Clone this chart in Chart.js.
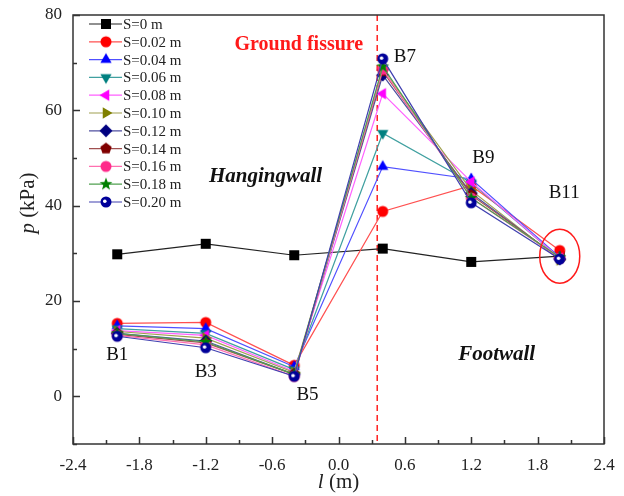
<!DOCTYPE html>
<html>
<head>
<meta charset="utf-8">
<script src="https://cdn.jsdelivr.net/npm/chart.js@4/dist/chart.umd.min.js"></script>
<style>
  html, body { margin: 0; padding: 0; background: #fff; }
  #wrap { width: 624px; height: 496px; }
</style>
</head>
<body>
<div id="wrap"><canvas id="chart" width="624" height="496"></canvas></div>
<script>
// Data
const positions = [-2.0, -1.2, -0.4, 0.4, 1.2, 2.0];   // l (m)
const pointNames = ['B1', 'B3', 'B5', 'B7', 'B9', 'B11'];
const seriesNames = ['S=0 m', 'S=0.02 m', 'S=0.04 m', 'S=0.06 m', 'S=0.08 m', 'S=0.10 m',
                     'S=0.12 m', 'S=0.14 m', 'S=0.16 m', 'S=0.18 m', 'S=0.20 m'];
const s000 = [29.8, 32.0, 29.6, 31.0, 28.2, 29.4];
const s002 = [15.3, 15.5, 6.5, 38.8, 44.2, 30.6];
const s004 = [14.8, 14.2, 6.2, 48.2, 45.6, 29.2];
const s006 = [14.2, 13.2, 5.6, 55.2, 44.8, 29.0];
const s008 = [13.8, 12.8, 5.2, 63.5, 45.0, 29.0];
const s010 = [13.6, 12.2, 5.0, 68.6, 43.2, 28.6];
const s012 = [13.2, 11.6, 4.6, 67.4, 42.6, 28.8];
const s014 = [13.0, 11.2, 4.6, 68.2, 42.2, 29.0];
const s016 = [12.8, 10.8, 4.2, 68.6, 41.6, 29.0];
const s018 = [13.2, 11.4, 4.6, 69.2, 41.6, 29.2];
const s020 = [12.6, 10.2, 4.2, 70.8, 40.6, 28.8];
const allSeries = [s000, s002, s004, s006, s008, s010, s012, s014, s016, s018, s020];

const xTickVals = [-2.4, -1.8, -1.2, -0.6, 0.0, 0.6, 1.2, 1.8, 2.4];
const yTickVals = [0, 20, 40, 60, 80];
const fissureX = 0.35;

// marker / line styles
const markerColors = ['#000000', '#ff0000', '#0000ff', '#008080', '#ff00ff', '#808000',
                      '#000080', '#800000', '#ff2a8a', '#008000', '#000099'];
const lineColors = ['#222222', '#ff5050', '#5050ff', '#40a0a0', '#ff60ff', '#a0a050',
                    '#5050a0', '#a05050', '#ff70b0', '#50a050', '#4040b0'];
const shapes = ['square', 'circle', 'triUp', 'triDown', 'triLeft', 'triRight',
                'diamond', 'pentagon', 'circle', 'star', 'dotCircle'];

function polygon(ctx, c, r, n, start) {
    ctx.beginPath();
    for (let i = 0; i < n; i++) {
        const a = start + i * 2 * Math.PI / n;
        const px = c + r * Math.cos(a), py = c + r * Math.sin(a);
        if (i === 0) ctx.moveTo(px, py); else ctx.lineTo(px, py);
    }
    ctx.closePath();
    ctx.fill();
}

function makeMarker(shape, color) {
    const cv = document.createElement('canvas');
    cv.width = 16; cv.height = 16;
    const ctx = cv.getContext('2d');
    const c = 8;
    ctx.fillStyle = color;
    switch (shape) {
        case 'square': ctx.fillRect(c - 5, c - 5, 10, 10); break;
        case 'circle':
            ctx.beginPath(); ctx.arc(c, c, 5.5, 0, Math.PI * 2); ctx.fill(); break;
        case 'triUp': polygon(ctx, c, 6.5, 3, -Math.PI / 2); break;
        case 'triDown': polygon(ctx, c, 6.5, 3, Math.PI / 2); break;
        case 'triLeft': polygon(ctx, c, 6.5, 3, Math.PI); break;
        case 'triRight': polygon(ctx, c, 6.5, 3, 0); break;
        case 'diamond': polygon(ctx, c, 6.5, 4, -Math.PI / 2); break;
        case 'pentagon': polygon(ctx, c, 6, 5, -Math.PI / 2); break;
        case 'star': {
            ctx.beginPath();
            for (let i = 0; i < 10; i++) {
                const r = i % 2 === 0 ? 6.8 : 2.8;
                const a = -Math.PI / 2 + i * Math.PI / 5;
                const px = c + r * Math.cos(a), py = c + r * Math.sin(a);
                if (i === 0) ctx.moveTo(px, py); else ctx.lineTo(px, py);
            }
            ctx.closePath(); ctx.fill();
            break;
        }
        case 'dotCircle':
            ctx.beginPath(); ctx.arc(c, c, 5.5, 0, Math.PI * 2); ctx.fill();
            ctx.fillStyle = '#ffffff';
            ctx.beginPath(); ctx.arc(c - 1.2, c - 0.8, 1.8, 0, Math.PI * 2); ctx.fill();
            break;
    }
    return cv;
}

const markers = shapes.map((s, i) => makeMarker(s, markerColors[i]));

const datasets = allSeries.map((vals, i) => ({
    label: seriesNames[i],
    data: vals.map((v, j) => ({ x: positions[j], y: v })),
    showLine: true,
    borderColor: lineColors[i],
    borderWidth: 1.2,
    pointStyle: markers[i],
    pointRadius: 6,
    pointHoverRadius: 6,
    order: allSeries.length - 1 - i
}));

// text annotations (data coords)
const labels = [
    { text: 'B1', x: -2.0, y: 8.6 },
    { text: 'B3', x: -1.2, y: 5.0 },
    { text: 'B5', x: -0.28, y: 0.2 },
    { text: 'B7', x: 0.6, y: 71.1 },
    { text: 'B9', x: 1.31, y: 50.0 },
    { text: 'B11', x: 2.04, y: 42.6 }
];

const SERIF = '"Liberation Serif", "DejaVu Serif", serif';

const decorPlugin = {
    id: 'decor',
    beforeDatasetsDraw(chart) {
        const { ctx, chartArea: a, scales: { x } } = chart;
        const fx = x.getPixelForValue(fissureX);
        ctx.save();
        ctx.strokeStyle = '#ff2020';
        ctx.lineWidth = 1.5;
        ctx.setLineDash([6, 4]);
        ctx.beginPath();
        ctx.moveTo(fx, a.top);
        ctx.lineTo(fx, a.bottom);
        ctx.stroke();
        ctx.restore();
    },
    afterDraw(chart) {
        const { ctx, chartArea: a, scales: { x, y } } = chart;
        ctx.save();
        // frame
        ctx.strokeStyle = '#333';
        ctx.lineWidth = 1.5;
        ctx.strokeRect(a.left, a.top, a.right - a.left, a.bottom - a.top);
        // inward ticks
        ctx.beginPath();
        for (let v = -2.4; v <= 2.401; v += 0.3) {
            const px = Math.round(x.getPixelForValue(v)) + 0.5;
            const major = Math.abs(Math.round(v / 0.3)) % 2 === 0;
            ctx.moveTo(px, a.bottom);
            ctx.lineTo(px, a.bottom - (major ? 7 : 4));
        }
        for (let v = -10; v <= 80; v += 10) {
            const py = Math.round(y.getPixelForValue(v)) + 0.5;
            const major = v % 20 === 0;
            ctx.moveTo(a.left, py);
            ctx.lineTo(a.left + (major ? 7 : 4), py);
        }
        ctx.stroke();

        // axis titles
        ctx.fillStyle = '#222';
        ctx.textBaseline = 'middle';
        ctx.font = 'italic 21px ' + SERIF;
        const wl = ctx.measureText('l').width;
        ctx.font = '21px ' + SERIF;
        const wm = ctx.measureText(' (m)').width;
        let sx = (a.left + a.right) / 2 - (wl + wm) / 2;
        ctx.textAlign = 'left';
        ctx.font = 'italic 21px ' + SERIF;
        ctx.fillText('l', sx, 482);
        ctx.font = '21px ' + SERIF;
        ctx.fillText(' (m)', sx + wl, 482);

        ctx.save();
        ctx.translate(28, 203);
        ctx.rotate(-Math.PI / 2);
        ctx.font = 'italic 21px ' + SERIF;
        const wp = ctx.measureText('p').width;
        ctx.font = '21px ' + SERIF;
        const wk = ctx.measureText(' (kPa)').width;
        sx = -(wp + wk) / 2;
        ctx.font = 'italic 21px ' + SERIF;
        ctx.fillText('p', sx, 0);
        ctx.font = '21px ' + SERIF;
        ctx.fillText(' (kPa)', sx + wp, 0);
        ctx.restore();

        // point labels
        ctx.textAlign = 'center';
        ctx.font = '19px ' + SERIF;
        ctx.fillStyle = '#111';
        labels.forEach(l => ctx.fillText(l.text, x.getPixelForValue(l.x), y.getPixelForValue(l.y)));

        // region labels
        ctx.font = 'bold italic 21px ' + SERIF;
        ctx.fillText('Hangingwall', x.getPixelForValue(-0.66), y.getPixelForValue(46.2));
        ctx.fillText('Footwall', x.getPixelForValue(1.43), y.getPixelForValue(8.8));

        ctx.fillStyle = '#ff1a1a';
        ctx.font = 'bold 20px ' + SERIF;
        ctx.textAlign = 'right';
        ctx.fillText('Ground fissure', x.getPixelForValue(fissureX) - 14, y.getPixelForValue(73.8));

        // ellipse round B11
        ctx.strokeStyle = '#ff1a1a';
        ctx.lineWidth = 1.5;
        ctx.beginPath();
        ctx.ellipse(x.getPixelForValue(2.0), y.getPixelForValue(29.4), 20, 27, 0, 0, Math.PI * 2);
        ctx.stroke();

        // legend
        ctx.textAlign = 'left';
        ctx.font = '15px ' + SERIF;
        chart.data.datasets.forEach((ds, i) => {
            const ly = 24 + i * 17.8;
            ctx.strokeStyle = ds.borderColor;
            ctx.lineWidth = 1.2;
            ctx.beginPath();
            ctx.moveTo(89, ly);
            ctx.lineTo(122, ly);
            ctx.stroke();
            ctx.drawImage(markers[i], 106 - 8, ly - 8);
            ctx.fillStyle = '#222';
            ctx.fillText(ds.label, 123, ly + 1);
        });
        ctx.restore();
    }
};

Chart.defaults.font.family = SERIF;
Chart.defaults.color = '#222';

new Chart(document.getElementById('chart').getContext('2d'), {
    type: 'scatter',
    data: { datasets: datasets },
    options: {
        responsive: false,
        animation: false,
        layout: { padding: { top: 15, right: 20, left: 0, bottom: 0 } },
        plugins: { legend: { display: false }, tooltip: { enabled: false } },
        scales: {
            x: {
                type: 'linear',
                min: -2.4,
                max: 2.4,
                grid: { display: false, drawTicks: false },
                border: { display: false },
                afterBuildTicks: s => { s.ticks = xTickVals.map(v => ({ value: v })); },
                afterFit: s => { s.height = 52; s.paddingLeft = 0; s.paddingRight = 0; },
                ticks: {
                    padding: 11,
                    maxRotation: 0,
                    autoSkip: false,
                    font: { size: 17 },
                    callback: v => Number(v).toFixed(1)
                }
            },
            y: {
                type: 'linear',
                min: -10,
                max: 80,
                grid: { display: false, drawTicks: false },
                border: { display: false },
                afterBuildTicks: s => { s.ticks = yTickVals.map(v => ({ value: v })); },
                afterFit: s => { s.width = 73; s.paddingTop = 0; s.paddingBottom = 0; },
                ticks: {
                    padding: 11,
                    autoSkip: false,
                    font: { size: 17 },
                    callback: v => String(v)
                }
            }
        }
    },
    plugins: [decorPlugin]
});
</script>
</body>
</html>
